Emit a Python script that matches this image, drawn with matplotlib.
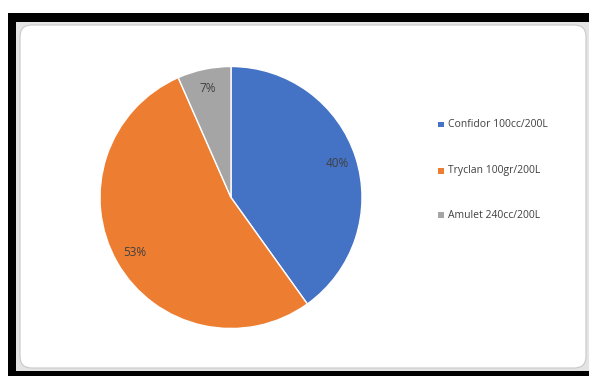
import matplotlib
matplotlib.use("Agg")
import matplotlib.pyplot as plt
from matplotlib.patches import Rectangle, FancyBboxPatch

labels = ["Confidor 100cc/200L", "Tryclan 100gr/200L", "Amulet 240cc/200L"]
values = [40.1, 53.3, 6.6]
colors = ["#4472C4", "#ED7D31", "#A5A5A5"]

W, H = 589, 376
fig = plt.figure(figsize=(W / 100, H / 100), dpi=100)
fig.patch.set_facecolor("white")

def px(x0, y0, x1, y1):
    # pixel coords (top-left origin) -> figure fraction
    return x0 / W, 1 - y1 / H, (x1 - x0) / W, (y1 - y0) / H

# black frame
x, y, w, h = px(8, 13, 589, 376)
fig.patches.append(Rectangle((x, y), w, h, transform=fig.transFigure, facecolor="black", edgecolor="none", zorder=0))
# light gray spreadsheet band
x, y, w, h = px(16, 22, 589, 371)
fig.patches.append(Rectangle((x, y), w, h, transform=fig.transFigure, facecolor="#e4e4e4", edgecolor="none", zorder=1))
# white chart area with rounded corners
x, y, w, h = px(20, 25, 586, 368)
fig.patches.append(FancyBboxPatch((x, y), w, h, boxstyle="round,pad=0,rounding_size=0.02",
                                  transform=fig.transFigure, facecolor="white", edgecolor="#c8c8c8",
                                  linewidth=0.8, zorder=2, mutation_aspect=W / H))

# pie axes: center (231,197.5), radius ~131
r = 131
cx, cy = 231, 197.5
ax = fig.add_axes(px(cx - r, cy - r, cx + r, cy + r))
ax.set_zorder(3)
wedges, texts, autotexts = ax.pie(values, colors=colors, startangle=90, counterclock=False,
                                  autopct="%1.0f%%", pctdistance=0.85,
                                  wedgeprops=dict(edgecolor="white", linewidth=1.0),
                                  textprops=dict(color="#404040", fontsize=8.5, family="Open Sans"))
ax.set_xlim(-1, 1)
ax.set_ylim(-1, 1)
ax.set_aspect("equal")
ax.axis("off")

# legend
leg_y = [125, 171, 215]
for lab, col, ly in zip(labels, colors, leg_y):
    fx, fy, _, _ = px(438, ly, 438, ly)
    fig.patches.append(Rectangle((fx, fy - 2.5 / H), 5.5 / W, 5.5 / H, transform=fig.transFigure,
                                 facecolor=col, edgecolor="none", zorder=4))
    fig.text(448 / W, 1 - ly / H, lab, ha="left", va="center", fontsize=7.5,
             color="#404040", family="Open Sans", zorder=4)

fig.savefig("out.png", dpi=100, facecolor="white")
